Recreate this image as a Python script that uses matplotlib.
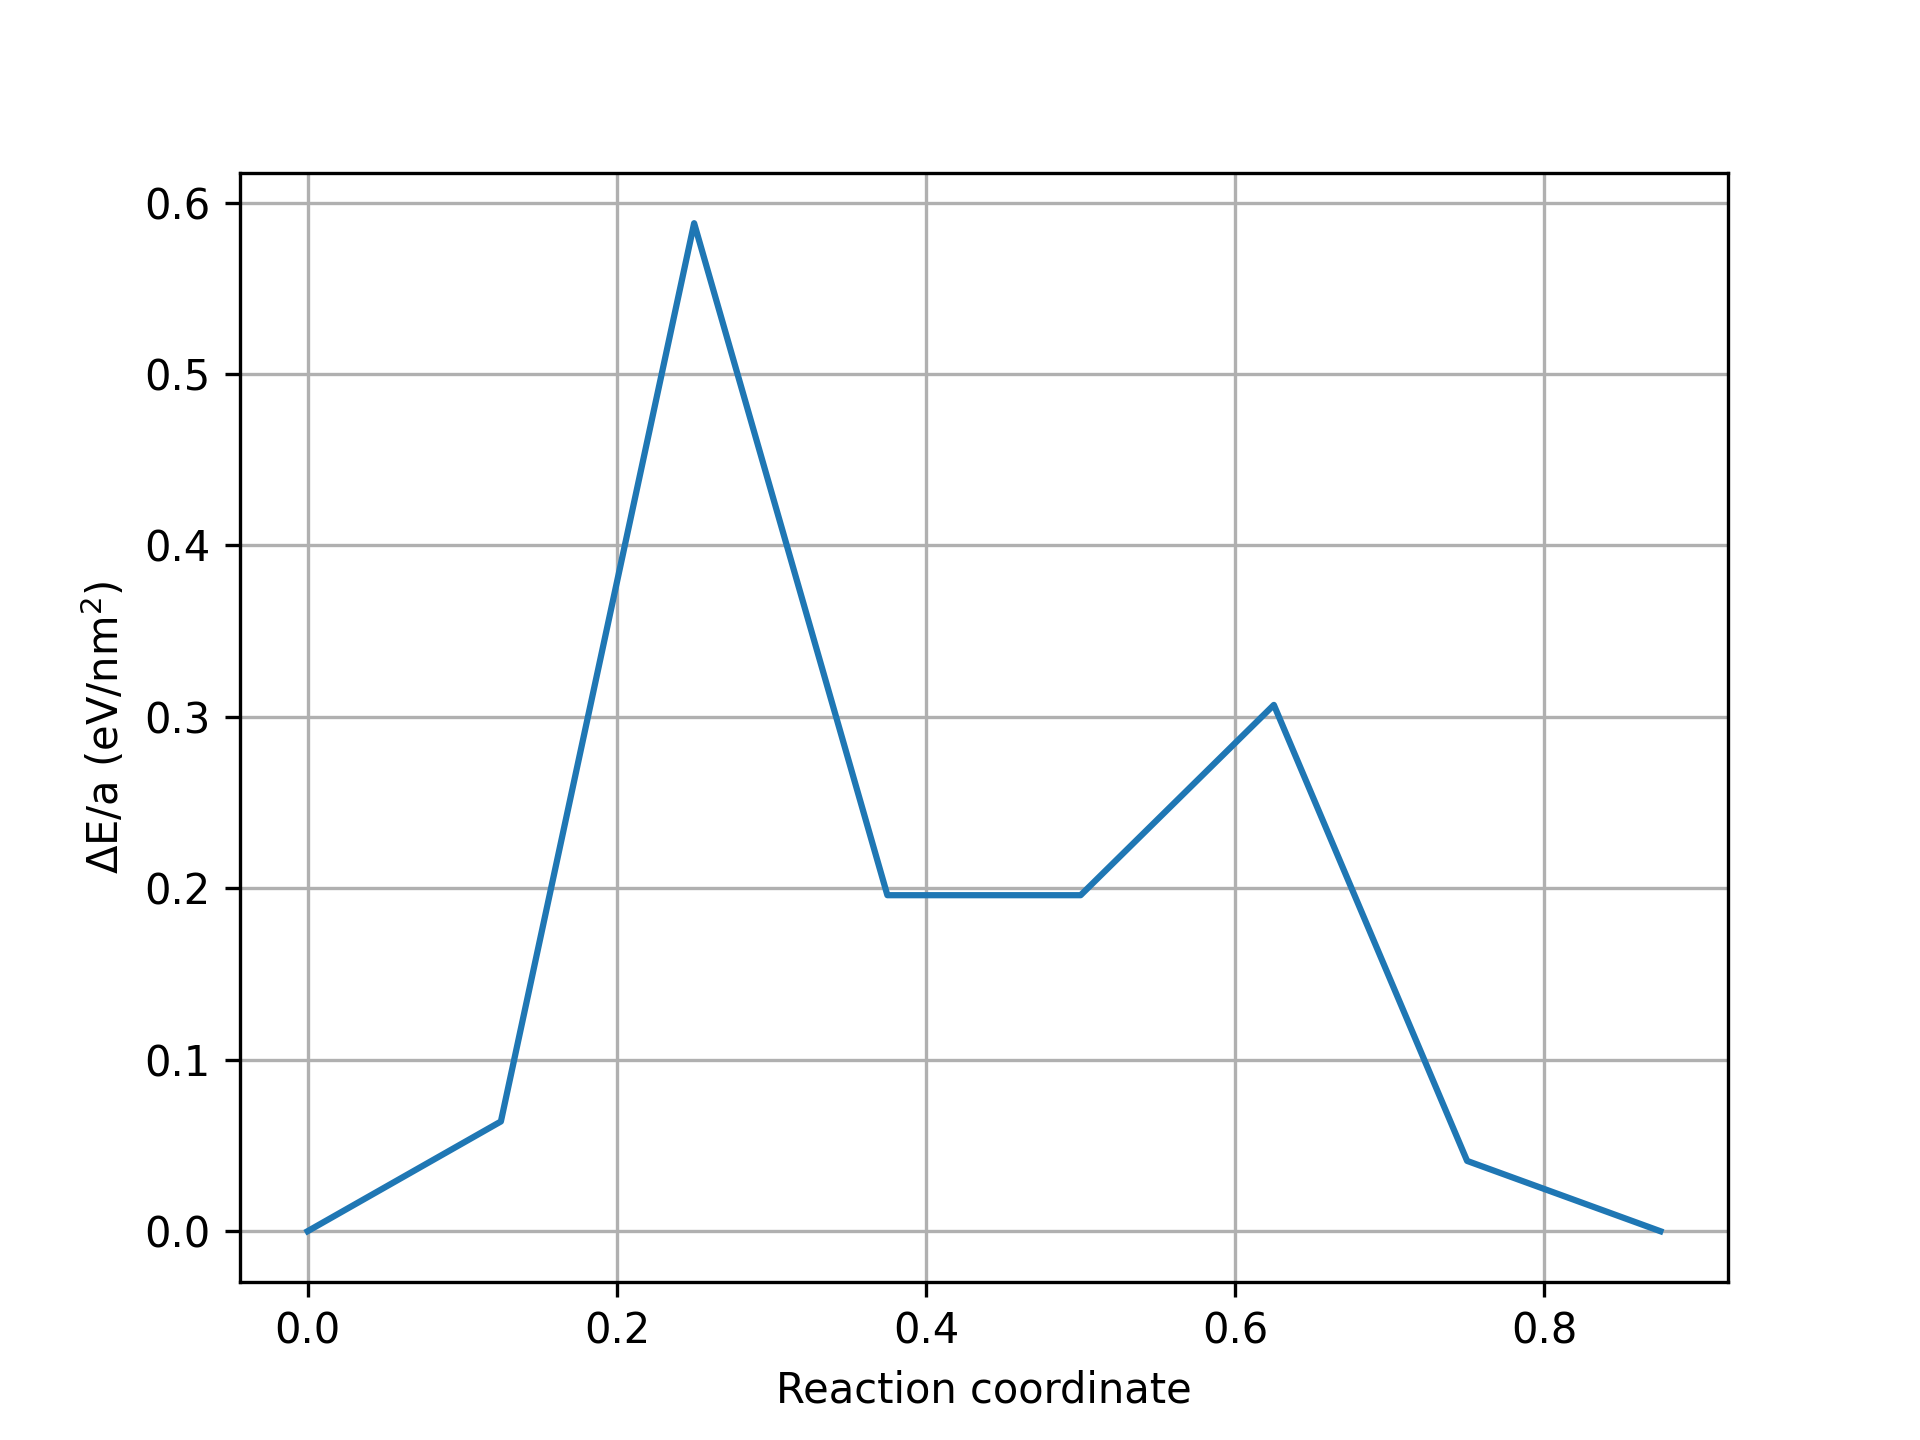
import matplotlib
matplotlib.use("Agg")
import matplotlib.pyplot as plt

# reaction path images (NEB-style)
reaction_coord = [0.0, 0.125, 0.25, 0.375, 0.5, 0.625, 0.75, 0.875]
delta_e = [0.0, 0.064, 0.588, 0.196, 0.196, 0.307, 0.041, 0.0]


def main():
    fig = plt.figure(figsize=(6.4, 4.8), dpi=300)
    plt.plot(reaction_coord, delta_e)
    plt.xlabel('Reaction coordinate')
    plt.ylabel(r'$\Delta$E/a (eV/nm$^2$)')
    plt.grid(True)
    fig.savefig('out.png', dpi=300)


if __name__ == "__main__":
    main()
